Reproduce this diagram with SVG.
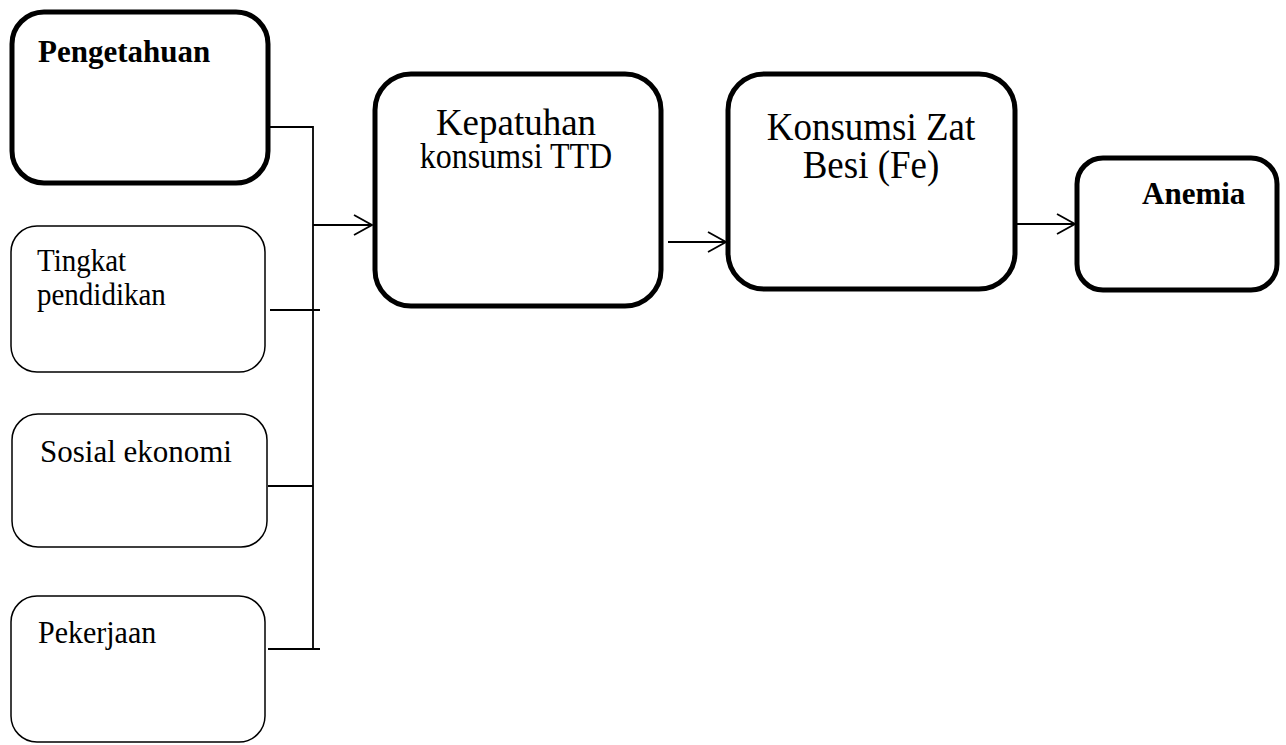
<svg xmlns="http://www.w3.org/2000/svg" width="1286" height="745" viewBox="0 0 1286 745">
<style>
.thick{fill:#fff;stroke:#000;stroke-width:5}
.thin{fill:#fff;stroke:#000;stroke-width:1.5}
.t{font-family:"Liberation Serif","Times New Roman",serif;fill:#000}
.b{font-weight:bold}
.c{fill:none;stroke:#000;stroke-width:1.8}
</style>
<defs>
<marker id="arr" viewBox="0 0 20 24" refX="19" refY="12" markerWidth="20" markerHeight="24" markerUnits="userSpaceOnUse" orient="auto">
<path d="M1,2 L19,12 L1,22" fill="none" stroke="#000" stroke-width="1.8"/>
</marker>
</defs>
<g id="connectors">
<path class="c" d="M270,127 H313 V649"/>
<path class="c" d="M270,310 H320"/>
<path class="c" d="M268,486 H313"/>
<path class="c" d="M268,649 H320"/>
<path class="c" d="M313,225 H372" marker-end="url(#arr)"/>
<path class="c" d="M668,242 H726" marker-end="url(#arr)"/>
<path class="c" d="M1016,224 H1075" marker-end="url(#arr)"/>
</g>
<g id="pengetahuan">
<rect class="thick" x="12" y="12" width="256" height="171" rx="32"/>
<text class="t b" x="38" y="62" font-size="31">Pengetahuan</text>
</g>
<g id="tingkat-pendidikan">
<rect class="thin" x="11" y="226" width="254" height="146" rx="26"/>
<text class="t" font-size="29" transform="translate(37,271) scale(1,1.06)">Tingkat</text>
<text class="t" font-size="29" transform="translate(37,305) scale(1,1.06)">pendidikan</text>
</g>
<g id="sosial-ekonomi">
<rect class="thin" x="12" y="414" width="255" height="133" rx="26"/>
<text class="t" font-size="31" transform="translate(40,462) scale(1,1.04)">Sosial ekonomi</text>
</g>
<g id="pekerjaan">
<rect class="thin" x="11" y="596" width="254" height="146" rx="26"/>
<text class="t" font-size="30" transform="translate(38,643) scale(1,1.04)">Pekerjaan</text>
</g>
<g id="kepatuhan">
<rect class="thick" x="375" y="74" width="286" height="232" rx="36"/>
<text class="t" font-size="37" text-anchor="middle" transform="translate(516,135) scale(1,1.05)">Kepatuhan</text>
<text class="t" font-size="32" text-anchor="middle" transform="translate(516,168) scale(1,1.1)">konsumsi TTD</text>
</g>
<g id="konsumsi-zat-besi">
<rect class="thick" x="728" y="74" width="287" height="215" rx="36"/>
<text class="t" font-size="37" text-anchor="middle" transform="translate(871,140) scale(1,1.06)">Konsumsi Zat</text>
<text class="t" font-size="37" text-anchor="middle" transform="translate(871,178) scale(1,1.06)">Besi (Fe)</text>
</g>
<g id="anemia">
<rect class="thick" x="1077" y="158" width="200" height="132" rx="26"/>
<text class="t b" x="1142" y="204" font-size="31">Anemia</text>
</g>
</svg>
